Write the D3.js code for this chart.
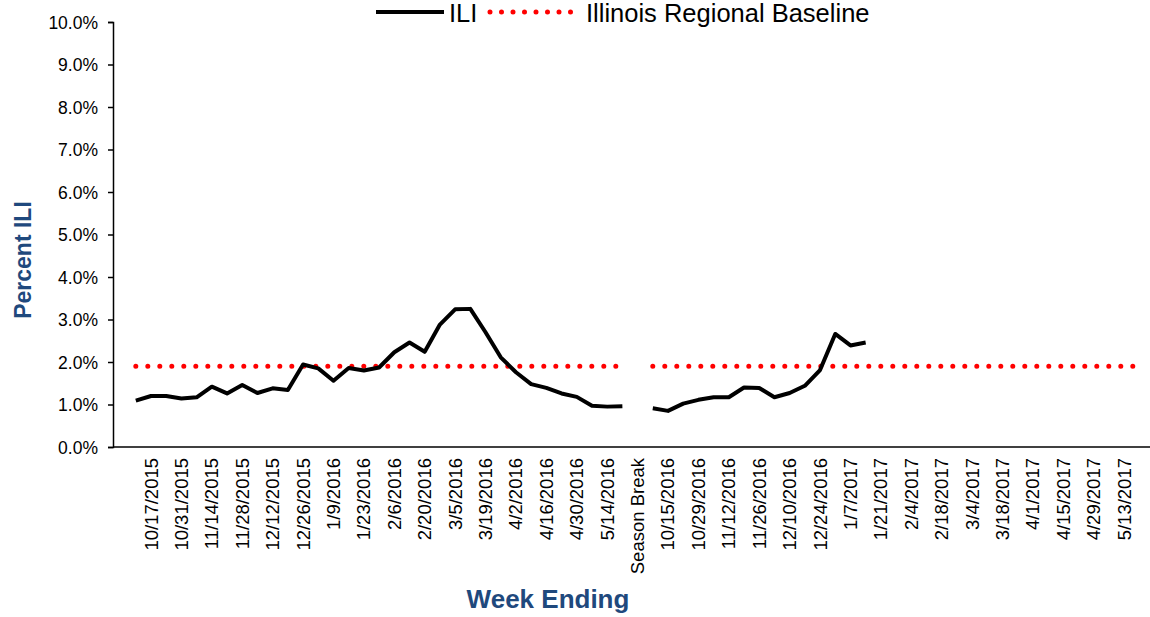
<!DOCTYPE html>
<html>
<head>
<meta charset="utf-8">
<script src="https://cdn.jsdelivr.net/npm/d3@7"></script>
<style>
  body { margin: 0; background: #fff; }
  text { font-family: "Liberation Sans", Arial, sans-serif; }
</style>
</head>
<body>
<div id="graph"></div>
<script>
// week ending categories (index 33 is the season break)
const weeks = [
  "10/10/2015","10/17/2015","10/24/2015","10/31/2015","11/7/2015","11/14/2015","11/21/2015","11/28/2015",
  "12/5/2015","12/12/2015","12/19/2015","12/26/2015","1/2/2016","1/9/2016","1/16/2016","1/23/2016",
  "1/30/2016","2/6/2016","2/13/2016","2/20/2016","2/27/2016","3/5/2016","3/12/2016","3/19/2016",
  "3/26/2016","4/2/2016","4/9/2016","4/16/2016","4/23/2016","4/30/2016","5/7/2016","5/14/2016","5/21/2016",
  "Season Break",
  "10/8/2016","10/15/2016","10/22/2016","10/29/2016","11/5/2016","11/12/2016","11/19/2016","11/26/2016",
  "12/3/2016","12/10/2016","12/17/2016","12/24/2016","12/31/2016","1/7/2017","1/14/2017","1/21/2017",
  "1/28/2017","2/4/2017","2/11/2017","2/18/2017","2/25/2017","3/4/2017","3/11/2017","3/18/2017",
  "3/25/2017","4/1/2017","4/8/2017","4/15/2017","4/22/2017","4/29/2017","5/6/2017","5/13/2017","5/20/2017"
];
// percent ILI per season
const season1 = [1.09,1.20,1.20,1.14,1.17,1.42,1.26,1.46,1.27,1.38,1.34,1.94,1.85,1.56,1.86,1.80,1.87,
  2.23,2.46,2.24,2.88,3.24,3.25,2.70,2.11,1.76,1.48,1.39,1.26,1.18,0.97,0.95,0.96];
const season2 = [0.91,0.85,1.02,1.11,1.17,1.17,1.40,1.39,1.17,1.27,1.44,1.81,2.66,2.39,2.46];
const season2Start = 34;
const baseline = 1.9;
const yTicks = [0,1,2,3,4,5,6,7,8,9,10];

const W = 1150, H = 617;
const mLeft = 113, mRight = 1150, mTop = 22, mBottom = 447;
const svg = d3.select('#graph').append('svg').attr('width', W).attr('height', H);

const x = d3.scaleLinear().domain([-1.5, 66.7]).range([mLeft, mRight]);
const y = d3.scaleLinear().domain([0, 10]).range([mBottom, mTop]);

// axes
const yAxis = svg.append('g').attr('transform', 'translate(' + mLeft + ',0)')
  .call(d3.axisLeft(y).tickValues(yTicks).tickSize(5).tickFormat(d => d.toFixed(1) + '%'));
yAxis.attr('font-size', null).attr('font-family', null);
yAxis.select('.domain').attr('stroke', '#000').attr('stroke-width', 1.5);
yAxis.selectAll('.tick line').attr('stroke', '#000').attr('stroke-width', 1.5);
yAxis.selectAll('.tick text').attr('fill', '#000').attr('x', -15).attr('dy', '0.35em')
  .style('font-size', '17.5px');

svg.append('line').attr('x1', mLeft).attr('x2', mRight).attr('y1', mBottom).attr('y2', mBottom)
  .attr('stroke', '#000').attr('stroke-width', 1.5);

svg.append('g').selectAll('text')
  .data(weeks.map((w, i) => ({w, i})).filter(d => d.i % 2 === 1))
  .enter().append('text')
  .attr('transform', d => 'translate(' + (x(d.i) + 6.5) + ',' + (mBottom + 11) + ') rotate(-90)')
  .attr('text-anchor', 'end')
  .style('font-size', '18.5px')
  .text(d => d.w);

// baseline (split at the season break)
const base = d3.line().x(d => x(d)).y(() => y(baseline));
[d3.range(0, 33), d3.range(34, 67)].forEach(r => {
  svg.append('path').attr('d', base(r)).attr('fill', 'none')
    .attr('stroke', '#ff0000').attr('stroke-width', 5).attr('stroke-linecap', 'round')
    .attr('stroke-dasharray', '0 12');
});

// ILI lines
const line = d3.line().x(d => x(d.i)).y(d => y(d.v));
[season1.map((v, i) => ({i, v})), season2.map((v, i) => ({i: i + season2Start, v}))].forEach(s => {
  svg.append('path').attr('d', line(s)).attr('fill', 'none')
    .attr('stroke', '#000').attr('stroke-width', 4).attr('stroke-linejoin', 'round');
});

// titles
svg.append('text').attr('transform', 'translate(31,' + 260 + ') rotate(-90)')
  .attr('text-anchor', 'middle').style('font-size', '23px').attr('font-weight', 'bold')
  .attr('fill', '#1f497d').text('Percent ILI');
svg.append('text').attr('x', 548).attr('y', 608).attr('text-anchor', 'middle')
  .style('font-size', '26px').attr('font-weight', 'bold').attr('fill', '#1f497d').text('Week Ending');

// legend
svg.append('line').attr('x1', 376).attr('x2', 444).attr('y1', 12).attr('y2', 12)
  .attr('stroke', '#000').attr('stroke-width', 4);
svg.append('text').attr('x', 449).attr('y', 22).style('font-size', '25.5px').text('ILI');
svg.append('line').attr('x1', 490).attr('x2', 572).attr('y1', 12).attr('y2', 12)
  .attr('stroke', '#ff0000').attr('stroke-width', 5).attr('stroke-linecap', 'round')
  .attr('stroke-dasharray', '0 11.5');
svg.append('text').attr('x', 586).attr('y', 22).style('font-size', '25.5px').text('Illinois Regional Baseline');
</script>
</body>
</html>
